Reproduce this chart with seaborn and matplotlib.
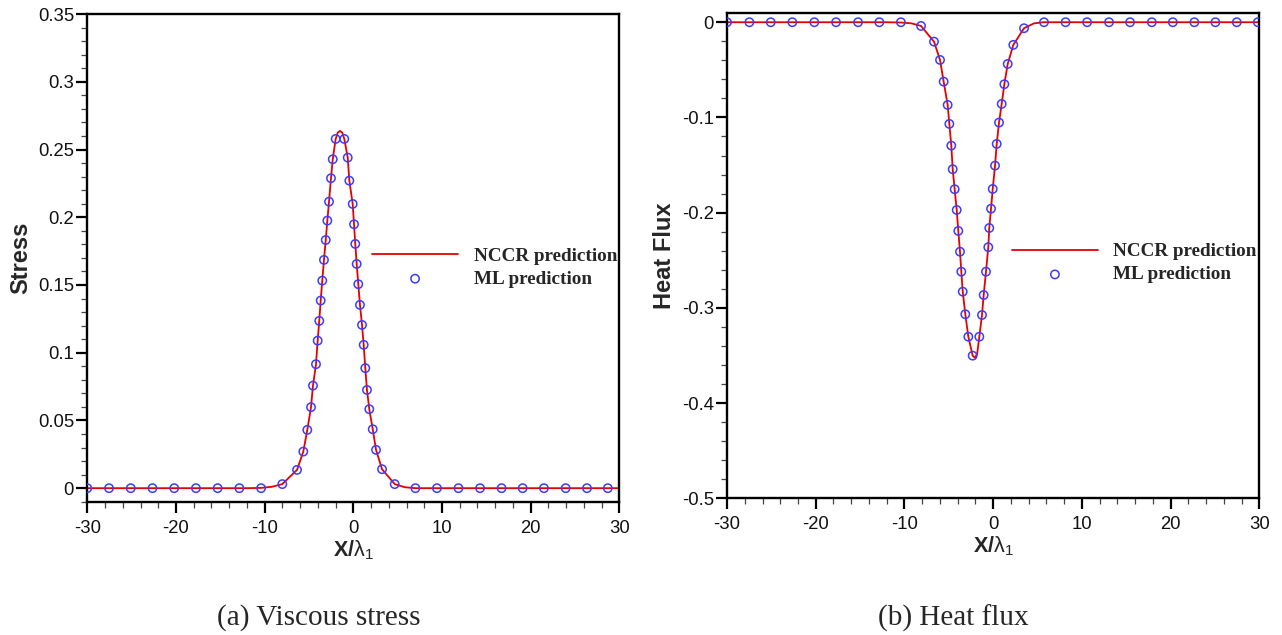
import seaborn as sns
import matplotlib.pyplot as plt
from matplotlib.ticker import MultipleLocator, FuncFormatter

# ML prediction markers, viscous stress
stress_ml_x = [-30, -27.55, -25.1, -22.65, -20.2, -17.75, -15.3, -12.85, -10.4,
               -8.01, -6.35, -5.64, -5.19, -4.77, -4.55, -4.21, -4.02, -3.84, -3.68,
               -3.50, -3.31, -3.11, -2.93, -2.74, -2.52, -2.32, -1.99,
               -1.02, -0.63, -0.45, -0.07, 0.08, 0.22, 0.38, 0.56, 0.75, 0.98,
               1.17, 1.35, 1.54, 1.80, 2.19, 2.56, 3.24, 4.67,
               7.0, 9.43, 11.86, 14.29, 16.72, 19.1, 21.5, 23.95, 26.35, 28.7]
stress_ml_y = [0, 0, 0, 0, 0, 0, 0, 0, 0,
               0.0030, 0.0135, 0.0270, 0.0430, 0.0598, 0.0757, 0.0915, 0.1089, 0.1235, 0.1385,
               0.1532, 0.1685, 0.1832, 0.1975, 0.2115, 0.2288, 0.2428, 0.2578,
               0.2578, 0.2440, 0.2270, 0.2098, 0.1948, 0.1803, 0.1655, 0.1506, 0.1353, 0.1205,
               0.1058, 0.0886, 0.0725, 0.0583, 0.0435, 0.0283, 0.0140, 0.0030,
               0, 0, 0, 0, 0, 0, 0, 0, 0, 0]

# NCCR prediction curve, viscous stress
stress_line_x = [-30, -20, -12, -10.4, -9.2, -8.01, -6.35, -5.64, -5.19, -4.77, -4.55,
                 -4.21, -4.02, -3.84, -3.68, -3.50, -3.31, -3.11, -2.93, -2.74, -2.52,
                 -2.32, -1.99, -1.75, -1.5, -1.25, -1.02, -0.63, -0.45, -0.07, 0.08,
                 0.22, 0.38, 0.56, 0.75, 0.98, 1.17, 1.35, 1.54, 1.80, 2.19, 2.56,
                 3.24, 4.67, 5.8, 7.0, 10, 20, 30]
stress_line_y = [0, 0, 0, 0.0002, 0.0010, 0.0030, 0.0135, 0.0270, 0.0430, 0.0598, 0.0757,
                 0.0915, 0.1089, 0.1235, 0.1385, 0.1532, 0.1685, 0.1832, 0.1975, 0.2115, 0.2288,
                 0.2428, 0.2578, 0.2625, 0.2637, 0.2625, 0.2578, 0.2440, 0.2270, 0.2098, 0.1948,
                 0.1803, 0.1655, 0.1506, 0.1353, 0.1205, 0.1058, 0.0886, 0.0725, 0.0583, 0.0435, 0.0283,
                 0.0140, 0.0030, 0.0007, 0, 0, 0, 0]

# ML prediction markers, heat flux
heat_ml_x = [-30, -27.48, -25.07, -22.64, -20.16, -17.71, -15.23, -12.83, -10.4,
             -8.13, -6.67, -5.99, -5.58, -5.13, -4.94, -4.72, -4.56, -4.34, -4.11,
             -3.93, -3.74, -3.59, -3.43, -3.14, -2.80, -2.31,
             -1.56, -1.26, -1.07, -0.81, -0.55, -0.44, -0.24, -0.05, 0.21, 0.40,
             0.66, 0.96, 1.26, 1.64, 2.27, 3.48, 5.73,
             8.16, 10.59, 13.06, 15.43, 17.88, 20.25, 22.68, 25.05, 27.46, 29.83]
heat_ml_y = [0, 0, 0, 0, 0, 0, 0, 0, 0,
             -0.0039, -0.0204, -0.0396, -0.0624, -0.0869, -0.1068, -0.1296, -0.1544, -0.1754, -0.1972,
             -0.2192, -0.2410, -0.2620, -0.2830, -0.3067, -0.3303, -0.3502,
             -0.3303, -0.3075, -0.2865, -0.2620, -0.2363, -0.2161, -0.1958, -0.1751, -0.1506, -0.1278,
             -0.1054, -0.0858, -0.0651, -0.0438, -0.0238, -0.0063, 0,
             0, 0, 0, 0, 0, 0, 0, 0, 0, 0]

# NCCR prediction curve, heat flux
heat_line_x = [-30, -20, -12, -10.4, -9.2, -8.13, -6.67, -5.99, -5.58, -5.13, -4.94,
               -4.72, -4.56, -4.34, -4.11, -3.93, -3.74, -3.59, -3.43, -3.14, -2.80,
               -2.31, -2.05, -1.8, -1.56, -1.26, -1.07, -0.81, -0.55, -0.44, -0.24,
               -0.05, 0.21, 0.40, 0.66, 0.96, 1.26, 1.64, 2.27, 3.48, 4.6, 5.73,
               10, 20, 30]
heat_line_y = [0, 0, 0, -0.0003, -0.0012, -0.0039, -0.0204, -0.0396, -0.0624, -0.0869, -0.1068,
               -0.1296, -0.1544, -0.1754, -0.1972, -0.2192, -0.2410, -0.2620, -0.2830, -0.3067, -0.3303,
               -0.3502, -0.3525, -0.3480, -0.3303, -0.3075, -0.2865, -0.2620, -0.2363, -0.2161, -0.1958,
               -0.1751, -0.1506, -0.1278, -0.1054, -0.0858, -0.0651, -0.0438, -0.0238, -0.0063, -0.0012, 0,
               0, 0, 0]

x_label = r'$\mathbf{X/}\mathrm{\lambda}_{\mathrm{1}}$'
legend_labels = ['NCCR prediction', 'ML prediction']
captions = ['(a) Viscous stress', '(b) Heat flux']

sns.set_theme(style='white')
plt.rcParams['font.family'] = ['Liberation Sans', 'DejaVu Sans']
plt.rcParams['axes.unicode_minus'] = False
plt.rcParams['mathtext.fontset'] = 'custom'
plt.rcParams['mathtext.rm'] = 'Liberation Sans'
plt.rcParams['mathtext.bf'] = 'Liberation Sans:bold'
plt.rcParams['mathtext.it'] = 'Liberation Sans:italic'

LINE_COLOR = '#e80000'
MARK_COLOR = '#3c3cff'


def draw_panel(ax, line_x, line_y, ml_x, ml_y, ylabel, ylim, ymajor, yminor, leg_anchor):
    sns.lineplot(x=line_x, y=line_y, ax=ax, color=LINE_COLOR, linewidth=1.3,
                 label=legend_labels[0], sort=False)
    sns.scatterplot(x=ml_x, y=ml_y, ax=ax, marker='o', s=36, facecolors='none',
                    edgecolor=MARK_COLOR, linewidth=1.1, label=legend_labels[1], zorder=3)
    ax.set_xlim(-30, 30)
    ax.set_ylim(*ylim)
    ax.xaxis.set_major_locator(MultipleLocator(10))
    ax.xaxis.set_minor_locator(MultipleLocator(2))
    ax.yaxis.set_major_locator(MultipleLocator(ymajor))
    ax.yaxis.set_minor_locator(MultipleLocator(yminor))
    ax.yaxis.set_major_formatter(FuncFormatter(lambda v, p: '%g' % round(v, 3)))
    ax.tick_params(which='major', direction='out', length=8, width=1.6, color='black',
                   labelsize=13.3, labelcolor='#111111', top=False, right=False,
                   bottom=True, left=True)
    ax.tick_params(axis='x', which='major', pad=5)
    ax.tick_params(axis='y', which='major', pad=1.5)
    ax.tick_params(which='minor', direction='out', length=4.5, width=0.9, color='#444444',
                   top=False, right=False, bottom=True, left=True)
    for sp in ax.spines.values():
        sp.set_visible(True)
        sp.set_color('black')
        sp.set_linewidth(1.7)
    ax.set_xlabel(x_label, fontsize=15.5, labelpad=1)
    ax.set_ylabel(ylabel, fontsize=17, fontweight='bold', labelpad=4)
    ax.grid(False)
    ax.legend(loc='upper left', bbox_to_anchor=leg_anchor, frameon=False,
              borderpad=0, borderaxespad=0, handlelength=4.5, handletextpad=0.8,
              labelspacing=0.3,
              prop={'family': ['Liberation Serif', 'DejaVu Serif'], 'weight': 'bold', 'size': 13.8})


fig = plt.figure(figsize=(12.82, 6.35), dpi=100)
ax1 = fig.add_axes([0.0681, 0.2099, 0.415, 0.768])
ax2 = fig.add_axes([0.5671, 0.2153, 0.4152, 0.7647])

draw_panel(ax1, stress_line_x, stress_line_y, stress_ml_x, stress_ml_y, 'Stress',
           (-0.01, 0.35), 0.05, 0.01, (0.535, 0.522))
draw_panel(ax2, heat_line_x, heat_line_y, heat_ml_x, heat_ml_y, 'Heat Flux',
           (-0.5, 0.01), 0.1, 0.02, (0.535, 0.526))

fig.text(0.2488, 0.027, captions[0], ha='center', va='center', fontsize=21,
         family=['Liberation Serif', 'DejaVu Serif'])
fig.text(0.744, 0.027, captions[1], ha='center', va='center', fontsize=21,
         family=['Liberation Serif', 'DejaVu Serif'])

fig.savefig('out.png', dpi=100)
